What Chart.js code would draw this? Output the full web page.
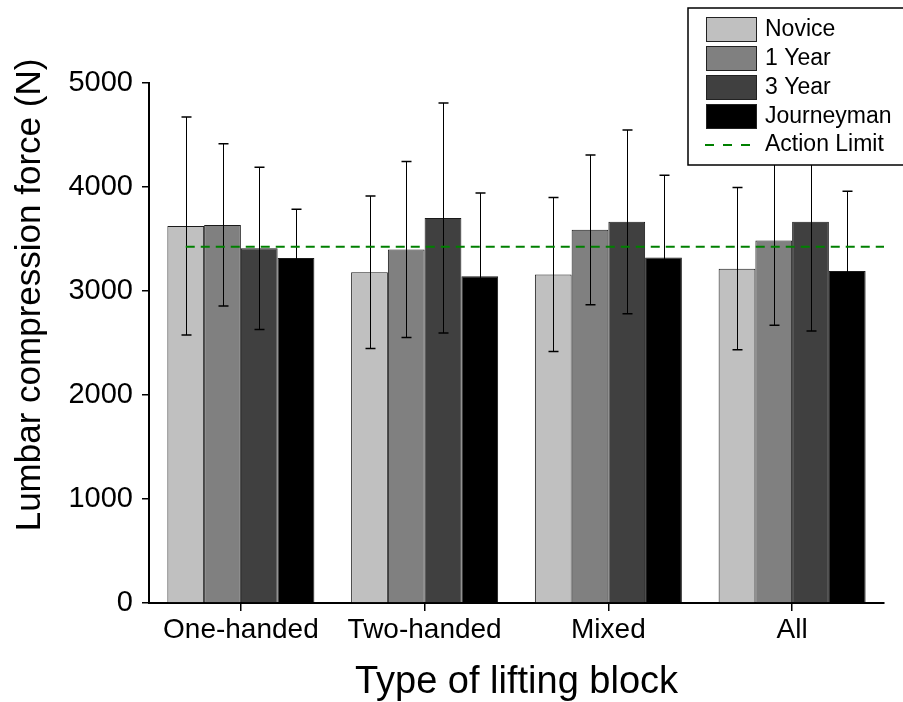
<!DOCTYPE html>
<html>
<head>
<meta charset="utf-8">
<title>Lumbar compression force by lifting block</title>
<script src="https://cdn.jsdelivr.net/npm/chart.js@4.4.1/dist/chart.umd.min.js"></script>
<style>
  html, body { margin: 0; padding: 0; background: #fff; }
  #plot { display: block; }
</style>
</head>
<body>
<canvas id="plot" width="903" height="702"></canvas>
<script>
const blocks = ['One-handed', 'Two-handed', 'Mixed', 'All'];
const groups = ['Novice', '1 Year', '3 Year', 'Journeyman'];
const groupColors = ['#c0c0c0', '#808080', '#404040', '#000000'];

// mean compression force (N) per experience group
const novice = [3625, 3180, 3158, 3215];
const year1 = [3635, 3398, 3588, 3485];
const year3 = [3410, 3702, 3665, 3667];
const journeyman = [3317, 3141, 3321, 3192];

// standard deviations
const noviceSd = [1048, 733, 740, 779];
const year1Sd = [780, 846, 720, 815];
const year3Sd = [780, 1106, 883, 1052];
const journeymanSd = [468, 801, 792, 767];

const actionLimit = 3425;
const yTicks = [0, 1000, 2000, 3000, 4000, 5000];
const yTitle = 'Lumbar compression force (N)';

const FONT = '"Liberation Sans", Arial, Helvetica, sans-serif';

const means = [novice, year1, year3, journeyman];
const sds = [noviceSd, year1Sd, year3Sd, journeymanSd];

const datasets = groups.map((g, i) => ({
  label: g,
  data: means[i],
  sd: sds[i],
  backgroundColor: groupColors[i],
  borderColor: '#1a1a1a',
  borderWidth: 1,
  categoryPercentage: 0.8,
  barPercentage: 1.0
}));

const errorBars = {
  id: 'errorBars',
  afterDatasetsDraw(chart) {
    const { ctx } = chart;
    const y = chart.scales.y;
    ctx.save();
    ctx.strokeStyle = '#000';
    chart.data.datasets.forEach((ds, di) => {
      const meta = chart.getDatasetMeta(di);
      meta.data.forEach((bar, i) => {
        const m = ds.data[i];
        const e = ds.sd[i];
        const top = y.getPixelForValue(m + e);
        const bot = y.getPixelForValue(m - e);
        const x = Math.round(bar.x) + 0.5;
        ctx.lineWidth = 1;
        ctx.beginPath();
        ctx.moveTo(x, top);
        ctx.lineTo(x, bot);
        ctx.stroke();
        ctx.lineWidth = 1.5;
        ctx.beginPath();
        ctx.moveTo(x - 5, top);
        ctx.lineTo(x + 5, top);
        ctx.moveTo(x - 5, bot);
        ctx.lineTo(x + 5, bot);
        ctx.stroke();
      });
    });
    ctx.restore();
  }
};

const limitLine = {
  id: 'limitLine',
  afterDatasetsDraw(chart) {
    const { ctx, chartArea } = chart;
    const yPix = chart.scales.y.getPixelForValue(actionLimit);
    const first = chart.getDatasetMeta(0).data[0];
    ctx.save();
    ctx.strokeStyle = '#008000';
    ctx.lineWidth = 2;
    ctx.setLineDash([9, 6]);
    ctx.beginPath();
    ctx.moveTo(first.x, yPix);
    ctx.lineTo(chartArea.right, yPix);
    ctx.stroke();
    ctx.restore();
  }
};

// vertical axis title, sits a little above the plot's middle
const sideTitle = {
  id: 'sideTitle',
  afterDraw(chart) {
    const { ctx } = chart;
    ctx.save();
    ctx.translate(30, 295);
    ctx.rotate(-Math.PI / 2);
    ctx.font = '35px ' + FONT;
    ctx.fillStyle = '#000';
    ctx.textAlign = 'center';
    ctx.textBaseline = 'middle';
    ctx.fillText(yTitle, 0, 0);
    ctx.restore();
  }
};

// boxed key in the top right corner, drawn over the plot
const boxLegend = {
  id: 'boxLegend',
  afterDraw(chart) {
    const { ctx } = chart;
    const left = 688, top = 8, bottom = 165;
    ctx.save();
    ctx.fillStyle = '#fff';
    ctx.fillRect(left, top, chart.width - left + 5, bottom - top);
    ctx.strokeStyle = '#000';
    ctx.lineWidth = 1.5;
    ctx.strokeRect(left, top, chart.width - left + 5, bottom - top);

    ctx.font = '23px ' + FONT;
    ctx.textBaseline = 'middle';
    ctx.textAlign = 'left';
    chart.data.datasets.forEach((ds, i) => {
      const sy = 17 + i * 29;
      ctx.fillStyle = ds.backgroundColor;
      ctx.fillRect(706, sy, 51, 25);
      ctx.strokeStyle = '#222';
      ctx.lineWidth = 1;
      ctx.strokeRect(706.5, sy + 0.5, 50, 24);
      ctx.fillStyle = '#000';
      ctx.fillText(ds.label, 765, sy + 13);
    });
    const ly = 17 + 4 * 29 + 12;
    ctx.strokeStyle = '#008000';
    ctx.lineWidth = 2;
    ctx.setLineDash([9, 9]);
    ctx.beginPath();
    ctx.moveTo(705, ly);
    ctx.lineTo(752, ly);
    ctx.stroke();
    ctx.setLineDash([]);
    ctx.fillStyle = '#000';
    ctx.fillText('Action Limit', 765, ly);
    ctx.restore();
  }
};

new Chart(document.getElementById('plot'), {
  type: 'bar',
  data: { labels: blocks, datasets },
  plugins: [errorBars, limitLine, sideTitle, boxLegend],
  options: {
    responsive: false,
    animation: false,
    devicePixelRatio: 1,
    layout: { padding: { top: 83, right: 19, left: 0, bottom: 0 } },
    plugins: {
      legend: { display: false },
      tooltip: { enabled: false }
    },
    scales: {
      x: {
        offset: true,
        grid: {
          display: true,
          drawOnChartArea: false,
          offset: false,
          tickLength: 8,
          color: '#000',
          lineWidth: 1.5
        },
        border: { display: true, color: '#000', width: 2 },
        ticks: {
          color: '#000',
          font: { family: FONT, size: 28 },
          padding: 2,
          maxRotation: 0
        },
        title: {
          display: true,
          text: 'Type of lifting block',
          color: '#000',
          font: { family: FONT, size: 38, lineHeight: 1 },
          padding: 0
        },
        afterFit(scale) { scale.height = 99; }
      },
      y: {
        min: 0,
        max: 5000,
        afterBuildTicks(scale) {
          scale.ticks = yTicks.map(v => ({ value: v }));
        },
        grid: {
          display: true,
          drawOnChartArea: false,
          tickLength: 7,
          color: '#000',
          lineWidth: 1.5
        },
        border: { display: true, color: '#000', width: 2 },
        ticks: {
          color: '#000',
          font: { family: FONT, size: 29 },
          padding: 9,
          callback: v => String(v)
        },
        afterFit(scale) { scale.width = 149; }
      }
    }
  }
});
</script>
</body>
</html>
